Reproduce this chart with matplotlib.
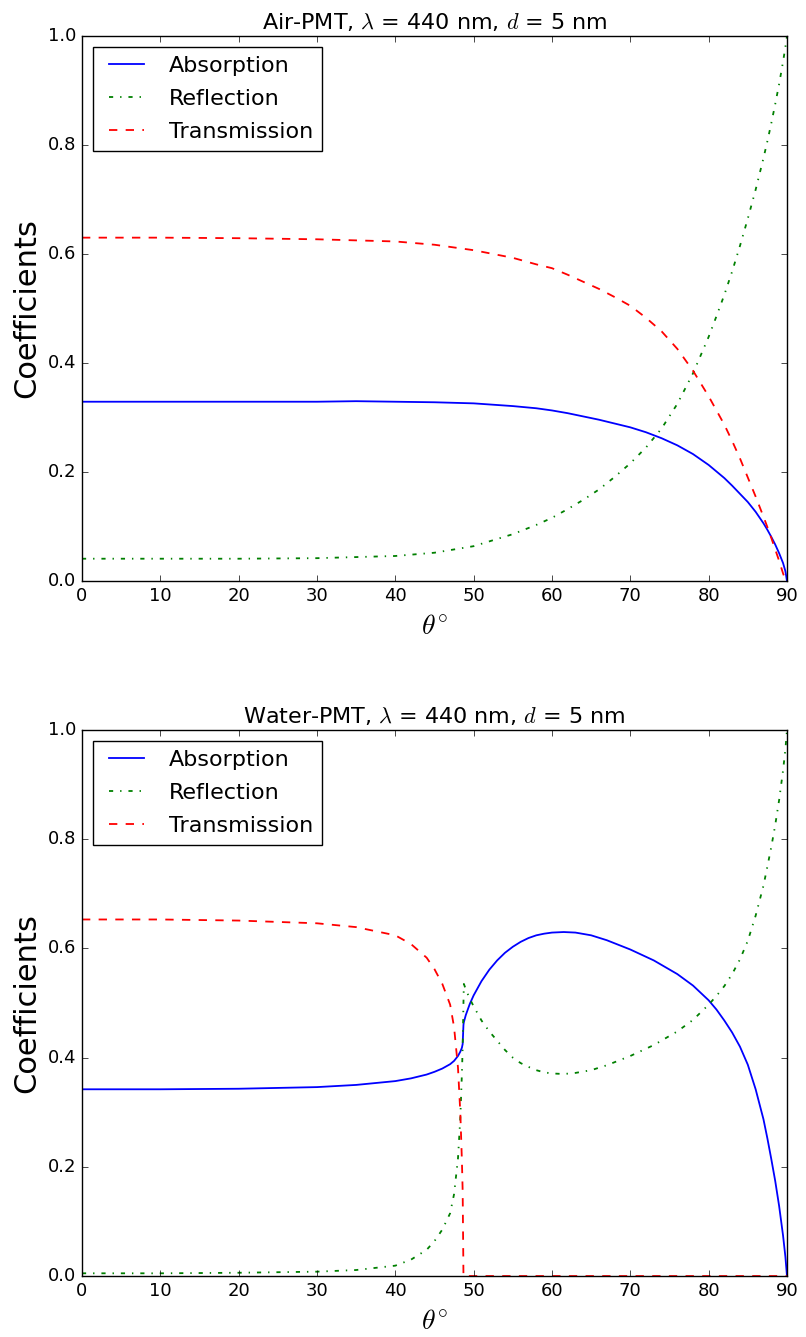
import matplotlib
matplotlib.use('Agg')
import matplotlib.pyplot as plt

plt.style.use('classic')
plt.rcParams['figure.facecolor'] = 'white'
plt.rcParams['savefig.facecolor'] = 'white'
plt.rcParams['mathtext.fontset'] = 'cm'

# Air-PMT interface, angle of incidence in degrees
theta_air = [0, 10, 20, 30, 35, 40, 45, 50, 55, 58,
             60, 62, 64, 66, 68, 70, 72, 74, 76, 78,
             80, 81, 82, 83, 84, 85, 86, 87, 87.5, 88,
             88.5, 89, 89.5, 89.8, 90]
absorption_air = [0.329, 0.329, 0.329, 0.329, 0.330, 0.329, 0.328, 0.326, 0.321, 0.317,
                  0.313, 0.308, 0.302, 0.296, 0.289, 0.282, 0.273, 0.262, 0.249, 0.233,
                  0.213, 0.201, 0.189, 0.175, 0.160, 0.145, 0.127, 0.106, 0.094, 0.081,
                  0.067, 0.051, 0.033, 0.018, 0.0]
reflection_air = [0.041, 0.041, 0.041, 0.042, 0.044, 0.046, 0.052, 0.064, 0.086, 0.103,
                  0.116, 0.132, 0.149, 0.168, 0.191, 0.216, 0.245, 0.280, 0.325, 0.381,
                  0.448, 0.486, 0.525, 0.568, 0.615, 0.665, 0.718, 0.776, 0.807, 0.840,
                  0.875, 0.912, 0.953, 0.980, 1.0]
transmission_air = [0.630, 0.630, 0.629, 0.627, 0.625, 0.623, 0.617, 0.607, 0.593, 0.581,
                    0.574, 0.562, 0.549, 0.536, 0.521, 0.505, 0.483, 0.458, 0.426, 0.386,
                    0.339, 0.313, 0.287, 0.257, 0.225, 0.190, 0.155, 0.118, 0.099, 0.079,
                    0.058, 0.037, 0.014, 0.002, 0.0]

# Water-PMT interface (total internal reflection past ~48.7 deg)
theta_water = [0, 10, 20, 30, 35, 40, 42, 44, 45, 46,
               47, 47.5, 48, 48.3, 48.5, 48.6, 48.7, 48.75, 49, 49.5,
               50, 51, 52, 53, 54, 55, 56, 57, 58, 59,
               60, 61.5, 63, 65, 67, 70, 73, 76, 78, 80,
               81, 82, 83, 84, 85, 86, 87, 87.5, 88, 88.5,
               89, 89.5, 89.8, 90]
absorption_water = [0.342, 0.342, 0.343, 0.346, 0.350, 0.357, 0.362, 0.369, 0.374, 0.380,
                    0.388, 0.394, 0.403, 0.411, 0.418, 0.425, 0.460, 0.465, 0.478, 0.498,
                    0.514, 0.540, 0.561, 0.578, 0.592, 0.603, 0.612, 0.619, 0.624, 0.627,
                    0.629, 0.630, 0.629, 0.624, 0.615, 0.598, 0.578, 0.553, 0.532, 0.505,
                    0.488, 0.468, 0.446, 0.420, 0.387, 0.342, 0.287, 0.252, 0.214, 0.174,
                    0.128, 0.074, 0.035, 0.0]
reflection_water = [0.005, 0.005, 0.006, 0.008, 0.011, 0.019, 0.030, 0.048, 0.064, 0.085,
                    0.115, 0.150, 0.215, 0.290, 0.370, 0.420, 0.500, 0.535, 0.525, 0.508,
                    0.494, 0.468, 0.448, 0.431, 0.414, 0.400, 0.390, 0.383, 0.377, 0.373,
                    0.371, 0.370, 0.372, 0.377, 0.386, 0.403, 0.423, 0.448, 0.469, 0.497,
                    0.513, 0.531, 0.553, 0.580, 0.614, 0.660, 0.715, 0.750, 0.786, 0.826,
                    0.872, 0.926, 0.965, 1.0]
transmission_water = [0.653, 0.653, 0.651, 0.646, 0.639, 0.624, 0.608, 0.583, 0.562, 0.535,
                      0.497, 0.456, 0.382, 0.299, 0.212, 0.155, 0.0, 0.0, 0.0, 0.0,
                      0.0, 0.0, 0.0, 0.0, 0.0, 0.0, 0.0, 0.0, 0.0, 0.0,
                      0.0, 0.0, 0.0, 0.0, 0.0, 0.0, 0.0, 0.0, 0.0, 0.0,
                      0.0, 0.0, 0.0, 0.0, 0.0, 0.0, 0.0, 0.0, 0.0, 0.0,
                      0.0, 0.0, 0.0, 0.0]

fig = plt.figure(figsize=(8.06, 13.37), dpi=100)
ax1 = fig.add_axes([0.1017, 0.5654, 0.8747, 0.4077])
ax2 = fig.add_axes([0.1017, 0.0456, 0.8747, 0.4084])

panels = [
    (ax1, 'Air-PMT', theta_air, absorption_air, reflection_air, transmission_air),
    (ax2, 'Water-PMT', theta_water, absorption_water, reflection_water, transmission_water),
]

for ax, medium, th, a, r, t in panels:
    ax.plot(th, a, 'b-', lw=1.3, label='Absorption')
    ax.plot(th, r, 'g-.', lw=1.3, label='Reflection')
    ax.plot(th, t, 'r--', lw=1.3, label='Transmission')
    ax.set_xlim(0, 90)
    ax.set_ylim(0, 1)
    ax.set_title(medium + r', $\lambda$ = 440 nm, $d$ = 5 nm', fontsize=16)
    ax.set_xlabel(r'$\theta^{\circ}$', fontsize=20)
    ax.set_ylabel('Coefficients', fontsize=22)
    ax.tick_params(labelsize=13)
    ax.legend(loc='upper left', fontsize=16, handlelength=2.2,
              handletextpad=0.8, labelspacing=0.58)

fig.savefig('out.png', dpi=100)
